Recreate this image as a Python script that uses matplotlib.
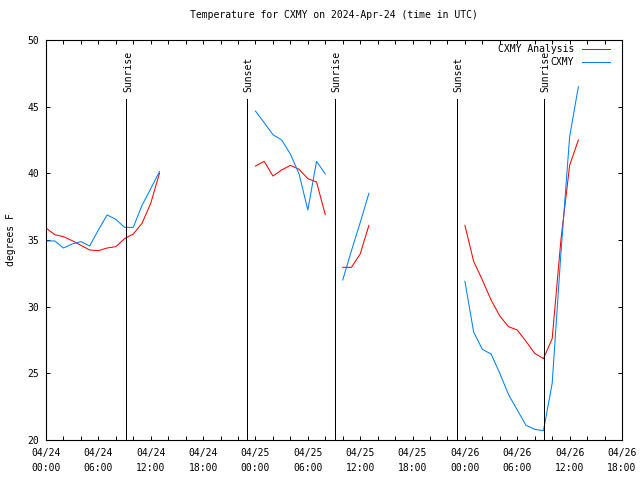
import numpy as np
import pandas as pd
import matplotlib
matplotlib.use("Agg")
import matplotlib.pyplot as plt
import matplotlib.dates as mdates

# --- Data: hourly temperatures (deg F), hours after 2024-04-24 00:00 UTC ---
obs_hours = (list(range(0, 14)) + list(range(24, 33))
             + list(range(34, 38)) + list(range(48, 62)))

analysis_temp = [
    35.9, 35.4, 35.25, 34.95, 34.6, 34.25, 34.2, 34.4, 34.5, 35.1, 35.45, 36.25, 37.75, 40.0,
    40.55, 40.9, 39.8, 40.25, 40.6, 40.3, 39.6, 39.35, 36.9,
    32.95, 32.95, 33.95, 36.1,
    36.1, 33.4, 32.0, 30.5, 29.3, 28.5, 28.25, 27.4, 26.5, 26.1, 27.6, 35.0, 40.6, 42.5,
]
cxmy_temp = [
    34.93, 34.93, 34.4, 34.7, 34.88, 34.55, 35.75, 36.88, 36.55, 35.95, 35.95, 37.6, 38.85, 40.13,
    44.67, 43.8, 42.9, 42.5, 41.45, 39.95, 37.25, 40.9, 39.95,
    32.0, 34.2, 36.3, 38.5,
    31.9, 28.1, 26.8, 26.45, 25.0, 23.4, 22.25, 21.1, 20.8, 20.7, 24.25, 34.0, 42.75, 46.5,
]

event_times = ["2024-04-24 09:12", "2024-04-24 23:02", "2024-04-25 09:07",
               "2024-04-25 23:06", "2024-04-26 09:04"]
event_names = ["Sunrise", "Sunset", "Sunrise", "Sunset", "Sunrise"]

start = pd.Timestamp("2024-04-24 00:00")
end = pd.Timestamp("2024-04-26 18:00")

# reindex onto a full hourly range so gaps break the lines
df = pd.DataFrame({"analysis": analysis_temp, "cxmy": cxmy_temp}, index=obs_hours)
df = df.reindex(range(0, max(obs_hours) + 1))
times = start + pd.to_timedelta(df.index, unit="h")

mono = "DejaVu Sans Mono"
fs = 7
lw = 0.6

fig = plt.figure(figsize=(6.4, 4.8), dpi=100)
ax = fig.add_axes([46 / 640, 40 / 480, 576 / 640, 400 / 480])

ax.plot(times, df["analysis"], color="#ff0000", lw=0.75)
ax.plot(times, df["cxmy"], color="#0080ff", lw=0.75)

# sunrise / sunset markers
top_frac = (440 - 99) / 400
for t, name in zip(event_times, event_names):
    tx = pd.Timestamp(t)
    ax.axvline(tx, ymin=0, ymax=top_frac, color="black", lw=lw, antialiased=False)
    ax.annotate(name, xy=(tx, 46.1), xytext=(1.2, 0), textcoords="offset points",
                rotation=90, ha="center", va="bottom", fontsize=fs, family=mono)

ax.set_xlim(start, end)
ax.set_ylim(20, 50)
ax.set_yticks(np.arange(20, 51, 5))
ax.xaxis.set_major_locator(mdates.HourLocator(byhour=[0, 6, 12, 18]))
ax.xaxis.set_minor_locator(mdates.HourLocator(byhour=range(0, 24, 2)))
ax.xaxis.set_major_formatter(mdates.DateFormatter("%m/%d\n%H:%M"))

ax.tick_params(axis="both", which="both", direction="in", top=True, right=True,
               length=3, width=0.7, labelsize=fs)
ax.tick_params(axis="x", pad=6)
ax.tick_params(axis="y", pad=5)
for lab in ax.get_xticklabels() + ax.get_yticklabels():
    lab.set_family(mono)
for lab in ax.get_xticklabels():
    lab.set_linespacing(1.6)
for s in ax.spines.values():
    s.set_linewidth(0.8)

ax.set_ylabel("degrees F", fontsize=fs, family=mono, labelpad=8)
ax.set_title("Temperature for CXMY on 2024-Apr-24 (time in UTC)",
             fontsize=fs, family=mono, pad=16)

# legend, gnuplot style (text left of the line sample)
leg_rows = [("CXMY Analysis", "#ff0000", (440 - 49) / 400),
            ("CXMY", "#0080ff", (440 - 62) / 400)]
for label, color, y in leg_rows:
    ax.text((574 - 46) / 576, y, label, transform=ax.transAxes, ha="right",
            va="center", fontsize=fs, family=mono)
    ax.plot([(582 - 46) / 576, (610 - 46) / 576], [y, y], transform=ax.transAxes,
            color=color, lw=lw, antialiased=False)

fig.savefig("out.png", dpi=100)
